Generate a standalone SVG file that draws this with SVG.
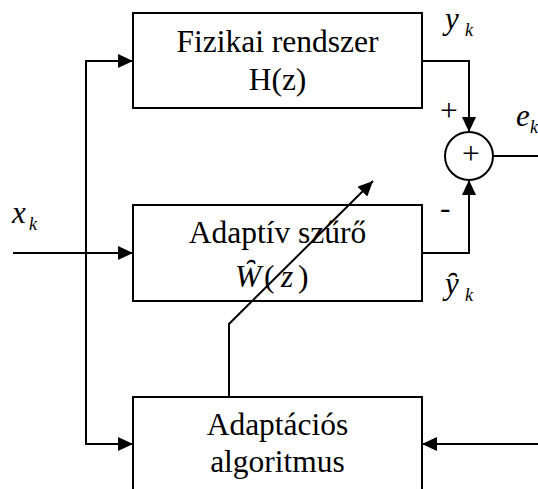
<svg xmlns="http://www.w3.org/2000/svg" width="538" height="489" viewBox="0 0 538 489">
<style>
.box{fill:#fff;stroke:#000;stroke-width:2}
.ln{fill:none;stroke:#000;stroke-width:2}
.t{font-family:"Liberation Serif","Times New Roman",serif;font-size:31.5px;fill:#000}
.it{font-family:"Liberation Serif","Times New Roman",serif;font-style:italic;font-size:31px;fill:#000}
.sub{font-family:"Liberation Serif","Times New Roman",serif;font-style:italic;font-size:18px;fill:#000}
</style>
<defs>
<marker id="ah" markerUnits="userSpaceOnUse" markerWidth="16" markerHeight="14" refX="15" refY="7" orient="auto">
<path d="M0,0 L15,7 L0,14 Z" fill="#000"/>
</marker>
</defs>
<rect width="538" height="489" fill="#fff"/>
<g id="box-fizikai">
<rect class="box" x="133" y="13" width="289" height="95"/>
<text class="t" x="277.5" y="52" text-anchor="middle">Fizikai rendszer</text>
<text class="t" x="277.5" y="90" text-anchor="middle">H(z)</text>
</g>
<g id="box-adaptiv">
<rect class="box" x="133" y="205" width="289" height="96"/>
<text class="t" x="277.5" y="243" text-anchor="middle">Adaptív szűrő</text>
<text class="t" y="287"><tspan x="235" font-style="italic">W&#x311;</tspan><tspan x="264">(</tspan><tspan x="281" font-style="italic">z</tspan><tspan x="298">)</tspan></text>
</g>
<g id="box-algoritmus">
<rect class="box" x="133" y="397" width="289" height="100"/>
<text class="t" x="277.5" y="435" text-anchor="middle">Adaptációs</text>
<text class="t" x="277.5" y="472" text-anchor="middle">algoritmus</text>
</g>
<g id="sum">
<circle class="ln" cx="469" cy="156" r="24"/>
<text class="t" x="471" y="164" font-size="15" text-anchor="middle">+</text>
</g>
<g id="connectors">
<path class="ln" d="M13,253 H133" marker-end="url(#ah)"/>
<path class="ln" d="M86,253 V61 H133" marker-end="url(#ah)"/>
<path class="ln" d="M86,253 V444 H133" marker-end="url(#ah)"/>
<path class="ln" d="M422,61 H469 V132" marker-end="url(#ah)"/>
<path class="ln" d="M422,253 H469 V180" marker-end="url(#ah)"/>
<path class="ln" d="M493,156 H538"/>
<path class="ln" d="M538,444 H422" marker-end="url(#ah)"/>
<path class="ln" d="M229,397 V324 L373,181" marker-end="url(#ah)"/>
</g>
<g id="labels">
<text class="it" x="12" y="223">x</text><text class="sub" x="29" y="230">k</text>
<text class="it" x="445" y="29">y</text><text class="sub" x="465" y="36">k</text>
<text class="it" x="516" y="126">e</text><text class="sub" x="530" y="133">k</text>
<text class="it" x="445" y="294">y&#x311;</text><text class="sub" x="465" y="301">k</text>
<text class="t" x="440" y="121" font-size="29">+</text>
<text class="t" x="440" y="218" font-size="29">-</text>
</g>
</svg>
